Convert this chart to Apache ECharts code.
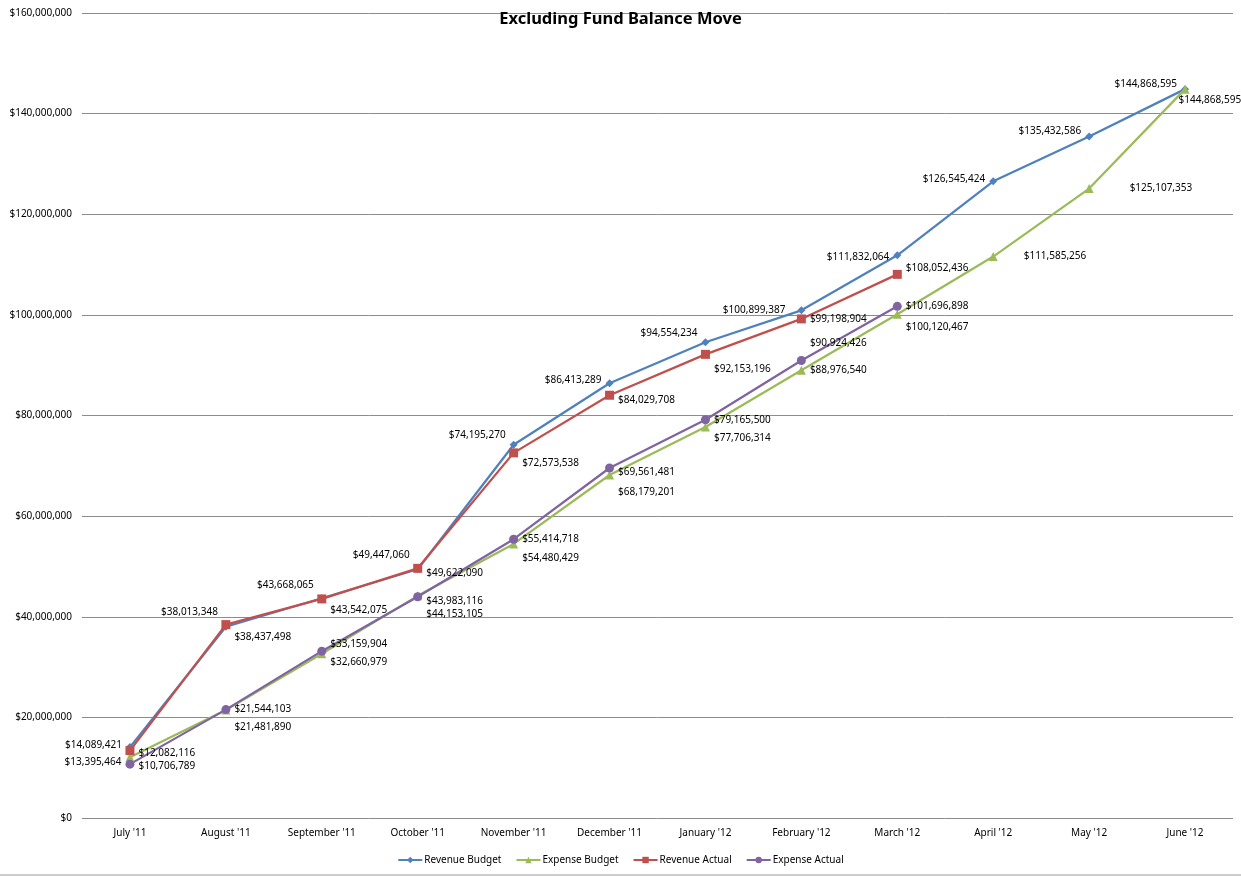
<!DOCTYPE html>
<html>
<head>
<meta charset="utf-8">
<script src="https://cdn.jsdelivr.net/npm/echarts@6/dist/echarts.min.js"></script>
<style>html,body{margin:0;padding:0;background:#fff;}#c{width:1241px;height:877px;}</style>
</head>
<body>
<div id="c"></div>
<script>
const months = ["July '11","August '11","September '11","October '11","November '11","December '11","January '12","February '12","March '12","April '12","May '12","June '12"];
const revenueBudget = [14089421,38013348,43668065,49447060,74195270,86413289,94554234,100899387,111832064,126545424,135432586,144868595];
const expenseBudget = [12082116,21481890,32660979,44153105,54480429,68179201,77706314,88976540,100120467,111585256,125107353,144868595];
const revenueActual = [13395464,38437498,43542075,49622090,72573538,84029708,92153196,99198904,108052436,null,null,null];
const expenseActual = [10706789,21544103,33159904,43983116,55414718,69561481,79165500,90924426,101696898,null,null,null];

// label placement (styling only): [dx, dy] per point
const rbOff = [[0,-2],[0,-15],[0,-13],[0,-14],[0,-10],[0,-3],[0,-9],[-8,0],[0,2],[0,-2],[0,-5],[0,-5]];
const ebOff = [[0,-4],[0,17],[0,8],[0,18],[0,14],[0,17],[0,11],[0,0],[0,13],[22,0],[32,0],[-15,11]];
const raOff = [[0,12],[0,13],[0,11],[0,5],[0,10],[0,5],[0,15],[0,0],[0,-6],[0,0],[0,0],[0,0]];
const eaOff = [[0,2],[0,0],[0,-7],[0,4],[0,0],[0,4],[0,0],[0,-17],[0,0],[0,0],[0,0],[0,0]];

const FONT = "'Noto Sans', sans-serif";
const money = v => '$' + Number(v).toLocaleString('en-US');
const lbl = (pos) => ({show:true, position:pos, distance:4, fontSize:10, color:'#000', fontFamily:FONT, formatter:p => money(p.value)});
const withOff = (arr, off, posFn) => arr.map((v,i) => v === null ? null : ({value:v, label:Object.assign({offset:off[i]}, posFn ? posFn(i) : {})}));

const chart = echarts.init(document.getElementById('c'));
chart.setOption({
  animation:false,
  backgroundColor:'#fff',
  title:{text:'Excluding Fund Balance Move', left:'center', top:6, textStyle:{fontSize:16.5, fontWeight:'bold', color:'#000', fontFamily:FONT}},
  grid:{left:82, right:8, top:13, bottom:59},
  legend:{bottom:7, left:'center', itemWidth:24, itemHeight:8, itemGap:14, textStyle:{fontSize:10, fontFamily:FONT, color:'#000', padding:[0,0,0,-3]},
    data:['Revenue Budget','Expense Budget','Revenue Actual','Expense Actual']},
  xAxis:{type:'category', data:months, boundaryGap:true,
    axisLine:{show:false}, axisTick:{show:false},
    axisLabel:{fontSize:10, color:'#000', fontFamily:FONT, margin:10}},
  yAxis:{type:'value', min:0, max:160000000, interval:20000000,
    axisLine:{show:false}, axisTick:{show:false},
    splitLine:{lineStyle:{color:'#8c8c8c', width:1}},
    axisLabel:{fontSize:10, color:'#000', fontFamily:FONT, margin:10, formatter:v => money(v)}},
  series:[
    {name:'Revenue Budget', type:'line', data:withOff(revenueBudget, rbOff), symbol:'diamond', symbolSize:8,
      itemStyle:{color:'#4F81BD'}, lineStyle:{width:2.25, color:'#4F81BD'}, label:lbl('left')},
    {name:'Expense Budget', type:'line', data:withOff(expenseBudget, ebOff), symbol:'triangle', symbolSize:9,
      itemStyle:{color:'#9BBB59'}, lineStyle:{width:2.25, color:'#9BBB59'}, label:lbl('right')},
    {name:'Revenue Actual', type:'line', data:withOff(revenueActual, raOff, i => i===0 ? {position:'left'} : {}), symbol:'rect', symbolSize:9,
      itemStyle:{color:'#C0504D'}, lineStyle:{width:2.25, color:'#C0504D'}, label:lbl('right')},
    {name:'Expense Actual', type:'line', data:withOff(expenseActual, eaOff), symbol:'circle', symbolSize:9,
      itemStyle:{color:'#8064A2'}, lineStyle:{width:2.25, color:'#8064A2'}, label:lbl('right')}
  ],
  graphic:[{type:'line', shape:{x1:0,y1:875,x2:1241,y2:875}, style:{stroke:'#bdbdbd', lineWidth:1.5}}]
});
</script>
</body>
</html>
